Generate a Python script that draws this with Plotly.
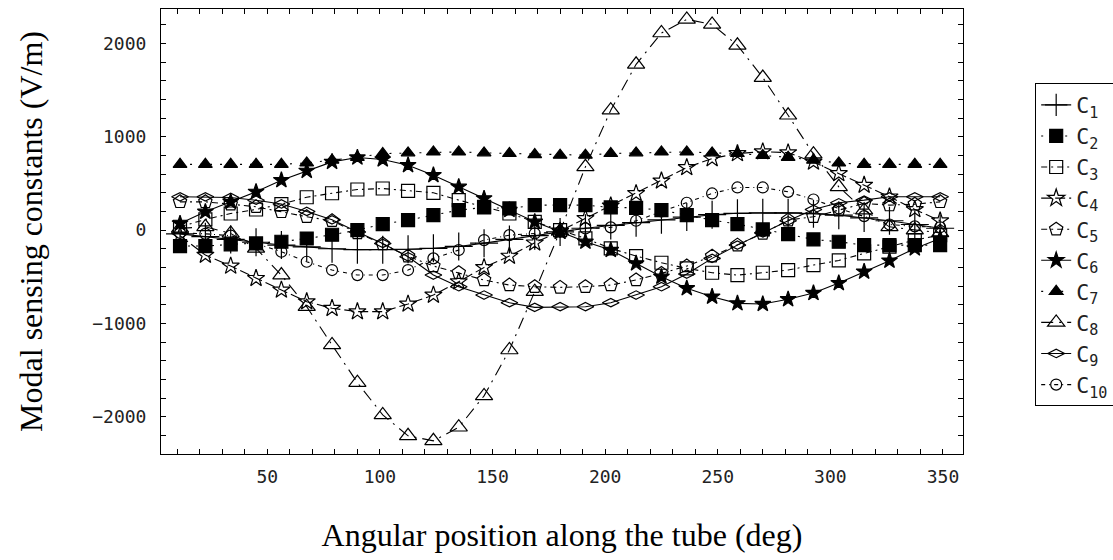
import plotly.graph_objects as go

angles = [11.25 * k for k in range(1, 32)]

c1 = [-40, -70, -100, -130, -160, -180, -200, -210, -210, -205, -195, -175, -140, -100, -60, -20,
      20, 50, 80, 110, 140, 165, 180, 185, 185, 175, 160, 130, 100, 60, 20]
c2 = [-171, -171, -153, -143, -125, -90, -50, 0, 64, 107, 160, 214, 243, 232, 268, 268,
      268, 243, 239, 214, 160, 107, 64, 7, -43, -100, -125, -161, -161, -161, -161]
c3 = [36, 114, 178, 221, 278, 352, 395, 435, 446, 421, 400, 321, 250, 178, 89, 0,
      -89, -196, -278, -350, -410, -457, -482, -457, -428, -375, -325, -250, -178, -107, -54]
c4 = [-60, -268, -385, -517, -642, -767, -838, -874, -874, -792, -696, -553, -400, -278, -136, -10,
      125, 260, 393, 528, 671, 767, 821, 840, 830, 730, 607, 482, 357, 221, 100]
c5 = [303, 303, 278, 250, 196, 143, 100, -30, -150, -280, -385, -457, -535, -589, -607, -614,
      -607, -589, -535, -464, -385, -280, -161, -36, 107, 143, 214, 285, 268, 278, 303]
c6 = [71, 196, 303, 410, 535, 635, 731, 778, 757, 696, 589, 464, 339, 215, 89, -18,
      -125, -214, -357, -500, -624, -714, -785, -792, -742, -675, -568, -446, -328, -196, -89]
c7 = [705, 705, 705, 705, 705, 720, 750, 780, 820, 828, 838, 838, 828, 821, 810, 803,
      803, 821, 828, 838, 838, 828, 821, 800, 780, 750, 720, 705, 705, 705, 705]
c8 = [18, 35, -35, -196, -482, -821, -1231, -1635, -1981, -2205, -2259, -2113, -1777, -1285, -660, -10,
      678, 1285, 1777, 2113, 2259, 2205, 1981, 1635, 1231, 814, 464, 214, 35, 0, -30]
c9 = [357, 357, 350, 320, 280, 200, 110, -20, -143, -286, -482, -607, -696, -778, -828, -821,
      -821, -778, -696, -607, -471, -303, -161, -30, 100, 221, 293, 321, 357, 357, 357]
c10 = [-30, -40, -60, -150, -232, -339, -428, -482, -482, -428, -303, -214, -107, -54, -36, -18,
       18, 29, 100, 200, 293, 393, 457, 457, 410, 328, 232, 150, 60, 40, 30]

series = [c1, c2, c3, c4, c5, c6, c7, c8, c9, c10]
names = ["C<sub>%d</sub>" % i for i in range(1, 11)]

symbols = ["cross-thin-open", "square", "square-open", "star-open", "pentagon-open",
           "star", "triangle-up", "triangle-up-open", "diamond-wide-open", "circle-open"]
sizes = [20, 13, 13, 13, 14, 12, 12, 15, 12, 11]
dashes = ["solid", "2px,6px", "6px,4px,2px,4px", "10px,4px", "6px,4px,2px,4px",
          "solid", "2px,8px", "12px,6px,2px,6px", "solid", "4px,4px,1px,4px"]

fig = go.Figure()
for ys, nm, sym, sz, ds in zip(series, names, symbols, sizes, dashes):
    fig.add_trace(go.Scatter(
        x=angles, y=ys, name=nm, mode="lines+markers",
        line=dict(color="black", width=1.1, dash=ds),
        marker=dict(symbol=sym, size=sz, color="black",
                    line=dict(color="black", width=1.2)),
    ))

tickfont = dict(family="DejaVu Sans Mono", size=18, color="#222222")
titlefont = dict(family="Liberation Serif", size=32, color="black")

fig.update_layout(
    width=1113, height=560,
    margin=dict(l=161, r=150, t=9, b=106, autoexpand=False),
    paper_bgcolor="white", plot_bgcolor="white",
    showlegend=True,
    legend=dict(
        x=1.09, y=0.833, xanchor="left", yanchor="top",
        bordercolor="black", borderwidth=1, bgcolor="white",
        font=dict(family="DejaVu Sans Mono", size=21.6, color="#222222"),
        itemwidth=30, entrywidth=130, entrywidthmode="pixels",
    ),
    xaxis=dict(
        range=[2.8, 358.9], tickmode="linear", tick0=0, dtick=50,
        ticks="inside", ticklen=5, tickcolor="black", ticklabelstandoff=6,
        showline=True, linecolor="black", linewidth=1, mirror="allticks",
        showgrid=False, zeroline=False, tickfont=tickfont,
        minor=dict(dtick=10, tick0=0, ticks="inside", ticklen=5, tickcolor="black", showgrid=False),
        title=dict(text="Angular position along the tube (deg)", font=titlefont, standoff=38),
    ),
    yaxis=dict(
        range=[-2400, 2370], tickmode="linear", tick0=0, dtick=1000,
        ticks="inside", ticklen=5, tickcolor="black", ticklabelstandoff=10,
        showline=True, linecolor="black", linewidth=1, mirror="allticks",
        showgrid=False, zeroline=False, tickfont=tickfont,
        minor=dict(dtick=200, tick0=0, ticks="inside", ticklen=5, tickcolor="black", showgrid=False),
        title=dict(text="Modal sensing constants (V/m)", font=titlefont, standoff=40),
    ),
)

fig.write_html("out.html")
